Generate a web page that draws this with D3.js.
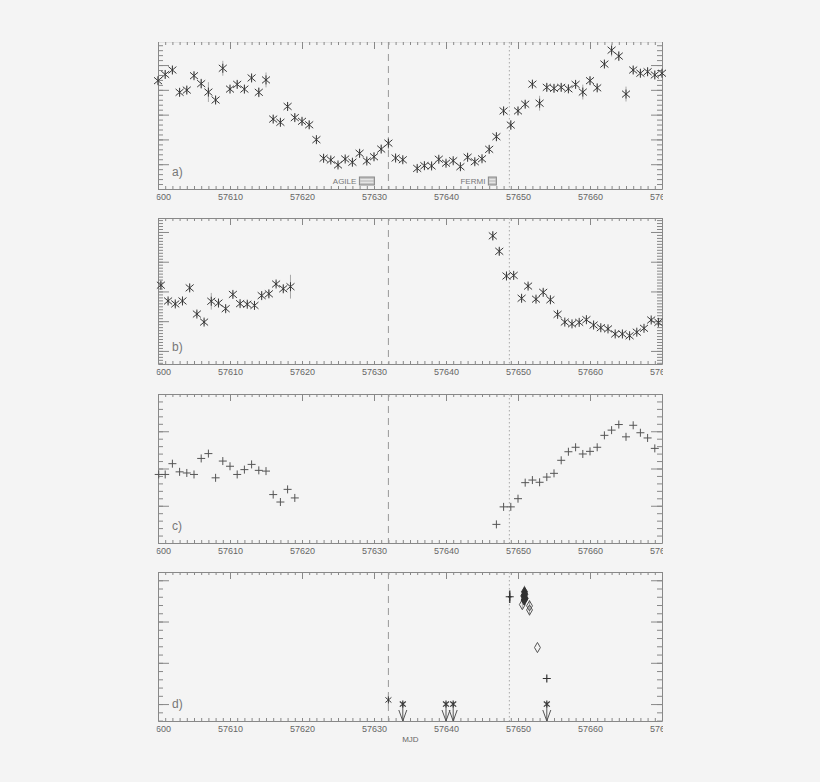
<!DOCTYPE html>
<html>
<head>
<meta charset="utf-8">
<script src="https://cdn.jsdelivr.net/npm/d3@7"></script>
<style>
  html, body { margin: 0; padding: 0; background: #f4f4f4; }
  svg { display: block; }
  text { font-family: "Liberation Sans", Arial, sans-serif; }
</style>
</head>
<body>
<svg id="chart" width="820" height="782"></svg>
<script>
// ---------------- DATA ----------------
const xTickValues = [57600, 57610, 57620, 57630, 57640, 57650, 57660, 57670];
const xTickLabels = ["57600", "57610", "57620", "57630", "57640", "57650", "57660", "57670"];
const agileMJD = 57632;
const fermiMJD = 57648.8;
const panelLabels = ["a)", "b)", "c)", "d)"];
const xAxisTitle = "MJD";

// panel a (asterisks)
const aMJD = [57600,57601,57602,57603,57604,57605,57606,57607,57608,57609,57610,57611,57612,57613,57614,57615,57616,57617,57618,57619,57620,57621,57622,57623,57624,57625,57626,57627,57628,57629,57630,57631,57632,57633,57634,57636,57637,57638,57639,57640,57641,57642,57643,57644,57645,57646,57647,57648,57649,57650,57651,57652,57653,57654,57655,57656,57657,57658,57659,57660,57661,57662,57663,57664,57665,57666,57667,57668,57669,57670];
const aVal = [4.37,4.62,4.80,3.90,3.99,4.57,4.25,3.91,3.59,4.87,4.03,4.22,4.03,4.48,3.90,4.40,2.82,2.69,3.33,2.88,2.73,2.59,1.99,1.24,1.17,0.97,1.21,1.08,1.44,1.13,1.30,1.61,1.85,1.25,1.18,0.83,0.94,0.93,1.20,1.04,1.14,0.90,1.28,1.10,1.22,1.60,2.11,3.15,2.58,3.15,3.42,4.23,3.46,4.10,4.06,4.10,4.04,4.22,3.91,4.37,4.08,5.04,5.60,5.36,3.83,4.80,4.67,4.73,4.60,4.67];
const aErr = [0.15,0.15,0.15,0.15,0.15,0.15,0.2,0.4,0.15,0.3,0.15,0.15,0.15,0.15,0.2,0.3,0.15,0.15,0.15,0.15,0.15,0.15,0.12,0.12,0.12,0.12,0.12,0.12,0.15,0.12,0.15,0.15,0.25,0.12,0.12,0.12,0.12,0.12,0.12,0.12,0.12,0.12,0.12,0.12,0.12,0.15,0.15,0.15,0.2,0.15,0.15,0.15,0.3,0.15,0.15,0.15,0.15,0.15,0.3,0.15,0.15,0.15,0.25,0.2,0.3,0.15,0.15,0.15,0.15,0.15];

// panel b (asterisks)
const bMJD = [57600.4,57601.4,57602.4,57603.4,57604.4,57605.4,57606.4,57607.4,57608.4,57609.4,57610.4,57611.4,57612.4,57613.4,57614.4,57615.4,57616.4,57617.4,57618.4,57646.5,57647.4,57648.4,57649.4,57650.5,57651.4,57652.5,57653.5,57654.5,57655.5,57656.5,57657.5,57658.5,57659.5,57660.5,57661.5,57662.5,57663.5,57664.5,57665.5,57666.5,57667.5,57668.5,57669.5];
const bVal = [2.21,1.68,1.58,1.68,2.12,1.24,0.97,1.67,1.61,1.42,1.90,1.59,1.57,1.53,1.86,1.92,2.25,2.09,2.16,3.87,3.35,2.52,2.54,1.77,2.18,1.74,1.97,1.72,1.23,0.97,0.91,0.96,1.05,0.87,0.78,0.74,0.57,0.57,0.51,0.63,0.76,1.04,0.96];
const bErr = [0.12,0.1,0.1,0.1,0.12,0.1,0.1,0.28,0.1,0.1,0.1,0.1,0.1,0.1,0.1,0.12,0.1,0.12,0.4,0.15,0.12,0.1,0.1,0.1,0.1,0.1,0.1,0.1,0.1,0.08,0.08,0.08,0.08,0.08,0.08,0.08,0.08,0.08,0.08,0.08,0.08,0.08,0.08];

// panel c (plus signs)
const cMJD = [57600.1,57601,57602,57603,57604,57605,57606,57607,57608,57609,57610,57611,57612,57613,57614,57615,57616,57617,57618,57619,57647,57648,57649,57650,57651,57652,57653,57654,57655,57656,57657,57658,57659,57660,57661,57662,57663,57664,57665,57666,57667,57668,57669];
const cVal = [1.84,1.84,2.13,1.91,1.88,1.84,2.27,2.40,1.75,2.20,2.06,1.84,1.97,2.11,1.95,1.93,1.30,1.10,1.44,1.21,0.50,0.97,0.97,1.19,1.62,1.69,1.63,1.77,1.87,2.22,2.45,2.57,2.39,2.46,2.57,2.89,3.03,3.18,2.85,3.16,2.96,2.82,2.54];

// panel d
const dDetMJD = [57632];
const dDetVal = [0.10];
const dUlMJD = [57634, 57640, 57641, 57654];
const dUlVal = [0, 0, 0, 0];
const dPlusMJD = [57648.85, 57654.0];
const dPlusVal = [2.60, 0.62];
const dPlusXErr = [0.25, 0.0];
const dPlusYErr = [0.15, 0.0];
const dFillDiaMJD = [57650.8, 57650.9, 57651.0, 57650.95, 57650.85];
const dFillDiaVal = [2.62, 2.72, 2.56, 2.66, 2.52];
const dFillDiaErr = [0.12, 0.15, 0.1, 0.12, 0.1];
const dOpenDiaMJD = [57650.6, 57651.6, 57651.6, 57652.7];
const dOpenDiaVal = [2.41, 2.38, 2.28, 1.37];
const dOpenDiaErr = [0.1, 0.14, 0.14, 0.0];

// ---------------- LAYOUT ----------------
const svg = d3.select("#chart");
const W = 820, H = 782;
svg.append("rect").attr("width", W).attr("height", H).attr("fill", "#f4f4f4");

const x = d3.scaleLinear().domain([57600, 57670]).range([158, 662]);

const panels = [
  {top: 42,  bottom: 189, domain: [0, 5.93],     minorStep: 0.2, majors: [0,1,2,3,4,5], label: 0, topLine: "#e2e2e2"},
  {top: 218, bottom: 364, domain: [-0.44, 4.47], minorStep: 0.1, majors: [0,1,2,3,4],   label: 1, topLine: "#888"},
  {top: 394, bottom: 543, domain: [0, 4],        minorStep: 0.2, majors: [0,1,2,3,4],   label: 2, topLine: "#888"},
  {top: 572, bottom: 721, domain: [-0.41, 3.2],  minorStep: 0.2, majors: [0,1,2,3],     label: 3, topLine: "#888"}
];

const axisColor = "#888";
const symColor = "#3a3a3a";
const errColor = "#a8a8a8";

svg.append("defs").append("clipPath").attr("id", "labclip")
  .append("rect").attr("x", 156.5).attr("y", 0).attr("width", 663 - 156.5).attr("height", H);

function minorVals(dom, step) {
  const out = [];
  const start = Math.ceil(dom[0] / step - 1e-9);
  const end = Math.floor(dom[1] / step + 1e-9);
  for (let i = start; i <= end; i++) out.push(+(i * step).toFixed(4));
  return out;
}
const xMinor = minorVals([57600, 57670], 1);

function styleAxis(g, color) {
  g.selectAll("path").attr("stroke", color).attr("stroke-width", 1);
  g.selectAll("line").attr("stroke", color).attr("stroke-width", 1);
}

const yScales = [];
panels.forEach((p, i) => {
  const y = d3.scaleLinear().domain(p.domain).range([p.bottom, p.top]);
  yScales.push(y);
  const g = svg.append("g");

  const yMinor = minorVals(p.domain, p.minorStep);
  const lm = g.append("g").attr("transform", `translate(${x.range()[0]},0)`)
    .call(d3.axisLeft(y).tickValues(yMinor).tickSize(-5).tickSizeOuter(0).tickFormat(""));
  styleAxis(lm, axisColor);
  const lM = g.append("g").attr("transform", `translate(${x.range()[0]},0)`)
    .call(d3.axisLeft(y).tickValues(p.majors).tickSize(-11).tickSizeOuter(0).tickFormat(""));
  styleAxis(lM, axisColor);
  lM.select("path").remove();

  const rm = g.append("g").attr("transform", `translate(${x.range()[1]},0)`)
    .call(d3.axisRight(y).tickValues(yMinor).tickSize(-5).tickSizeOuter(0).tickFormat(""));
  styleAxis(rm, axisColor);
  const rM = g.append("g").attr("transform", `translate(${x.range()[1]},0)`)
    .call(d3.axisRight(y).tickValues(p.majors).tickSize(-11).tickSizeOuter(0).tickFormat(""));
  styleAxis(rM, axisColor);
  rM.select("path").remove();

  const tm = g.append("g").attr("transform", `translate(0,${p.top})`)
    .call(d3.axisTop(x).tickValues(xMinor).tickSize(-3).tickSizeOuter(0).tickFormat(""));
  styleAxis(tm, axisColor);
  tm.select("path").attr("stroke", p.topLine);
  const tM = g.append("g").attr("transform", `translate(0,${p.top})`)
    .call(d3.axisTop(x).tickValues(xTickValues).tickSize(-7).tickSizeOuter(0).tickFormat(""));
  styleAxis(tM, axisColor);
  tM.select("path").remove();

  const bm = g.append("g").attr("transform", `translate(0,${p.bottom})`)
    .call(d3.axisBottom(x).tickValues(xMinor).tickSize(-3).tickSizeOuter(0).tickFormat(""));
  styleAxis(bm, axisColor);
  const bM = g.append("g").attr("transform", `translate(0,${p.bottom})`)
    .attr("clip-path", "url(#labclip)")
    .call(d3.axisBottom(x).tickValues(xTickValues).tickSize(-7).tickSizeOuter(0).tickPadding(5)
      .tickFormat((d, k) => xTickLabels[k]));
  styleAxis(bM, axisColor);
  bM.select("path").remove();
  bM.selectAll("text").attr("fill", "#666").attr("font-size", 9)
    .attr("font-family", "'Liberation Sans', Arial, sans-serif");

  g.append("line").attr("x1", x(agileMJD)).attr("x2", x(agileMJD))
    .attr("y1", p.top).attr("y2", p.bottom)
    .attr("stroke", "#999").attr("stroke-width", 1).attr("stroke-dasharray", "7,5");
  g.append("line").attr("x1", x(fermiMJD)).attr("x2", x(fermiMJD))
    .attr("y1", p.top).attr("y2", p.bottom)
    .attr("stroke", "#aaa").attr("stroke-width", 1).attr("stroke-dasharray", "1.5,2.5");

  g.append("text").attr("x", x.range()[0] + 14).attr("y", p.bottom - 13)
    .attr("font-size", 12).attr("fill", "#777").text(panelLabels[p.label]);
});

// ---------------- SYMBOLS ----------------
function asterisk(s, t) {
  return `M${-s},${-s * 0.85}L${s},${s * 0.85}M${-s},${s * 0.85}L${s},${-s * 0.85}M0,${-t}L0,${t}`;
}
function plus(s) { return `M${-s},0H${s}M0,${-s}V${s}`; }

function errBars(g, xs, vs, es, y) {
  g.selectAll(null).data(xs.map((d, i) => [d, vs[i], es[i]])).enter()
    .append("line")
    .attr("x1", d => x(d[0])).attr("x2", d => x(d[0]))
    .attr("y1", d => y(d[1] - d[2])).attr("y2", d => y(d[1] + d[2]))
    .attr("stroke", errColor).attr("stroke-width", 1);
}

function drawSym(g, y, xs, vs, path, color, width) {
  g.selectAll(null).data(xs.map((d, i) => [d, vs[i]])).enter()
    .append("path")
    .attr("transform", d => `translate(${x(d[0])},${y(d[1])})`)
    .attr("d", path).attr("fill", "none")
    .attr("stroke", color).attr("stroke-width", width);
}

// panel a
const gA = svg.append("g");
errBars(gA, aMJD, aVal, aErr, yScales[0]);
drawSym(gA, yScales[0], aMJD, aVal, asterisk(4, 4.5), symColor, 1);

// panel b
const gB = svg.append("g");
errBars(gB, bMJD, bVal, bErr, yScales[1]);
drawSym(gB, yScales[1], bMJD, bVal, asterisk(4, 4.5), symColor, 1);

// panel c
const gC = svg.append("g");
drawSym(gC, yScales[2], cMJD, cVal, plus(4), "#555", 1);

// panel d
const yD = yScales[3];
const gD = svg.append("g");
errBars(gD, dDetMJD, dDetVal, [0.15], yD);
drawSym(gD, yD, dDetMJD, dDetVal, asterisk(3, 3.5), symColor, 1);

gD.selectAll(null).data(dUlMJD.map((d, i) => [d, dUlVal[i]])).enter()
  .append("path")
  .attr("d", d => {
    const cx = x(d[0]), cy = yD(d[1]), by = panels[3].bottom;
    return `M${cx},${cy}L${cx},${by}M${cx - 4},${by - 11}L${cx},${by}L${cx + 4},${by - 11}`;
  })
  .attr("fill", "none").attr("stroke", "#555").attr("stroke-width", 1);
drawSym(gD, yD, dUlMJD, dUlVal, asterisk(3, 3.5), symColor, 1.2);

gD.selectAll(null).data(dPlusMJD.map((d, i) => [d, dPlusVal[i], dPlusXErr[i], dPlusYErr[i]])).enter()
  .append("path")
  .attr("d", d => {
    const cy = yD(d[1]), cx = x(d[0]);
    return `M${x(d[0] - d[2])},${cy}H${x(d[0] + d[2])}M${cx},${yD(d[1] - d[3])}V${yD(d[1] + d[3])}`;
  })
  .attr("stroke", "#444").attr("stroke-width", 1.5).attr("fill", "none");
drawSym(gD, yD, dPlusMJD, dPlusVal, plus(4), "#333", 1.2);

const diamond = d3.symbol().type(d3.symbolDiamond).size(30);
errBars(gD, dFillDiaMJD, dFillDiaVal, dFillDiaErr, yD);
errBars(gD, dOpenDiaMJD, dOpenDiaVal, dOpenDiaErr, yD);
gD.selectAll(null).data(dOpenDiaMJD.map((d, i) => [d, dOpenDiaVal[i]])).enter()
  .append("path")
  .attr("transform", d => `translate(${x(d[0])},${yD(d[1])})`)
  .attr("d", diamond).attr("fill", "none").attr("stroke", "#555").attr("stroke-width", 1);
gD.selectAll(null).data(dFillDiaMJD.map((d, i) => [d, dFillDiaVal[i]])).enter()
  .append("path")
  .attr("transform", d => `translate(${x(d[0])},${yD(d[1])})`)
  .attr("d", diamond).attr("fill", "#333").attr("stroke", "#333").attr("stroke-width", 1);

// ---------------- ANNOTATIONS ----------------
const pA = panels[0];
function instBox(label, mjd, boxW, gap) {
  const right = x(mjd) - gap;
  const bx = right - boxW, by = pA.bottom - 12, bh = 8;
  svg.append("rect").attr("x", bx).attr("y", by).attr("width", boxW).attr("height", bh)
    .attr("fill", "#c4c4c4").attr("stroke", "#888").attr("stroke-width", 1);
  [2.7, 5.3].forEach(o => svg.append("line").attr("x1", bx + 1).attr("x2", bx + boxW - 1)
    .attr("y1", by + o).attr("y2", by + o).attr("stroke", "#eee").attr("stroke-width", 1));
  svg.append("text").attr("x", bx - 3).attr("y", by + 7).attr("text-anchor", "end")
    .attr("font-size", 8).attr("fill", "#777").text(label);
}
instBox("AGILE", agileMJD, 15, 14);
instBox("FERMI", fermiMJD, 8, 13);

svg.append("text").attr("x", x(57632) + 22).attr("y", 742).attr("text-anchor", "middle")
  .attr("font-size", 8).attr("fill", "#666").text(xAxisTitle);
</script>
</body>
</html>
